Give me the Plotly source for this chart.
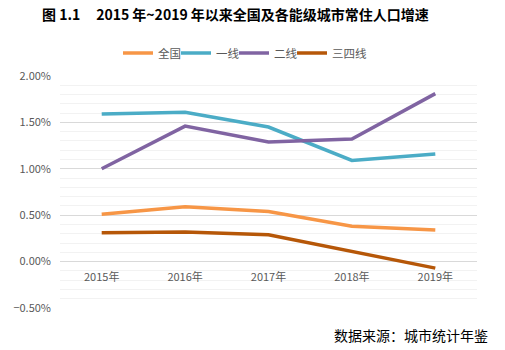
import plotly.graph_objects as go

years = ["2015年", "2016年", "2017年", "2018年", "2019年"]
national = [0.0051, 0.0059, 0.0054, 0.0038, 0.0034]
tier1 = [0.0159, 0.0161, 0.0145, 0.0109, 0.0116]
tier2 = [0.0100, 0.0146, 0.0129, 0.0132, 0.0181]
tier34 = [0.0031, 0.0032, 0.0029, 0.0011, -0.0007]

names = ["全国", "一线", "二线", "三四线"]
colors = ["#F79646", "#4BACC6", "#8064A2", "#B65708"]
series = [national, tier1, tier2, tier34]

FONT = "Noto Sans CJK SC"
NB = "\u00a0"

fig = go.Figure()
for n, c, s in zip(names, colors, series):
    fig.add_trace(go.Scatter(x=years, y=s, name=n, mode="lines",
                             line=dict(color=c, width=3.5)))
# empty spacer entry so the last legend label is not clipped
fig.add_trace(go.Scatter(x=[None], y=[None], name=NB, mode="lines",
                         line=dict(color="rgba(0,0,0,0)", width=0),
                         hoverinfo="skip"))

title = f"<b>图{NB}1.1{NB*5}2015{NB}年~2019{NB}年以来全国及各能级城市常住人口增速</b>"

fig.update_layout(
    width=505, height=350,
    margin=dict(l=60, r=28, t=76, b=42, autoexpand=False),
    paper_bgcolor="white", plot_bgcolor="white",
    font=dict(family=FONT, color="#595959", size=11),
    title=dict(text=title,
               xref="container", yref="container", x=42/505, y=1-15/350,
               xanchor="left", yanchor="middle",
               font=dict(family=FONT, size=14, color="black")),
    legend=dict(orientation="h", x=118/505, xanchor="left", xref="container",
                y=1-53/350, yref="container", yanchor="middle",
                font=dict(family=FONT, size=11.5, color="#595959"),
                itemwidth=30, tracegroupgap=0, traceorder="normal",
                entrywidth=13, entrywidthmode="pixels"),
    showlegend=True,
    xaxis=dict(type="category", range=[-0.5, 4.5], showgrid=False, showline=False,
               ticks="", anchor="free", position=0.2, zeroline=False,
               ticklabelstandoff=7,
               tickfont=dict(family=FONT, size=11, color="#595959")),
    yaxis=dict(range=[-0.005, 0.02], dtick=0.005, tick0=0, tickformat=".2%",
               showgrid=True, gridcolor="#D9D9D9", gridwidth=1, zeroline=False,
               showline=False, ticks="", ticklabelstandoff=8,
               minor=dict(dtick=0.001, showgrid=True, gridcolor="#F2F2F2", gridwidth=1),
               tickfont=dict(family=FONT, size=11, color="#595959")),
)

fig.add_annotation(text="数据来源：城市统计年鉴", xref="paper", yref="paper",
                   x=(490-60)/417, y=(308-335)/232, xanchor="right", yanchor="middle",
                   showarrow=False, font=dict(family=FONT, size=14, color="black"))

fig.write_html("out.html")
